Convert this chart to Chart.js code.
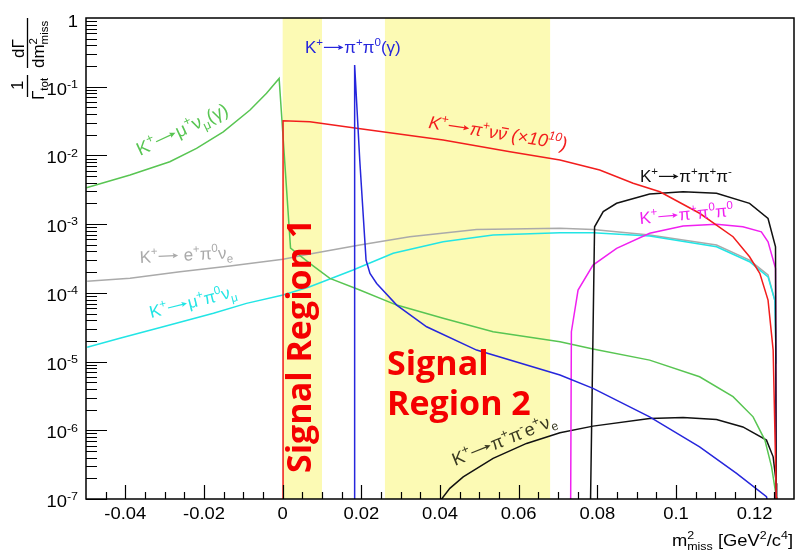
<!DOCTYPE html>
<html>
<head>
<meta charset="utf-8">
<script src="https://cdn.jsdelivr.net/npm/chart.js@4.4.1/dist/chart.umd.min.js"></script>
<style>
  html, body { margin: 0; padding: 0; background: #fff; }
  canvas { display: block; }
</style>
</head>
<body>
<canvas id="c" width="797" height="556"></canvas>
<script>
/* ===== K+ decay m2miss spectra (Chart.js, ROOT look) ===== */
const xMin = -0.05, xMax = 0.13, yMin = 1e-7, yMax = 1;

// K+ -> mu+ nu (gamma)
const kmu2X = [-0.0499, -0.0388, -0.0287, -0.0219, -0.0151, -0.0083, -0.0041, -0.0009, 0.0020, 0.0069, 0.0120, 0.0196, 0.0290, 0.0408, 0.0535, 0.0705, 0.0789, 0.0933, 0.1060, 0.1145, 0.1196, 0.1226, 0.1243, 0.1255, 0.1258];
const kmu2Y = [3.39e-3, 5.19e-3, 8.09e-3, 1.27e-2, 2.21e-2, 4.58e-2, 8.02e-2, 1.32e-1, 4.47e-4, 2.69e-4, 1.62e-4, 1.10e-4, 6.64e-5, 4.26e-5, 2.72e-5, 1.94e-5, 1.52e-5, 1.05e-5, 6.01e-6, 3.08e-6, 1.57e-6, 7.19e-7, 2.94e-7, 1.07e-7, 5e-8];
// K+ -> pi+ nu nubar (x1e10)
const pnnX = [0.0001, 0.0001, 0.0069, 0.0188, 0.0408, 0.0578, 0.0705, 0.0806, 0.0891, 0.0959, 0.1060, 0.1145, 0.1187, 0.1213, 0.1234, 0.1247, 0.1255, 0.1256];
const pnnY = [5e-8, 3.20e-2, 3.09e-2, 2.48e-2, 1.68e-2, 1.13e-2, 8.57e-3, 6.13e-3, 3.93e-3, 2.96e-3, 1.44e-3, 6.56e-4, 3.35e-4, 1.92e-4, 7.85e-5, 1.47e-5, 1.07e-7, 5e-8];
// K+ -> pi+ pi0 (gamma)
const ppi0X = [0.0183, 0.0183, 0.0196, 0.0212, 0.0222, 0.0239, 0.0290, 0.0366, 0.0493, 0.0705, 0.0789, 0.0933, 0.1060, 0.1154, 0.1230, 0.1235];
const ppi0Y = [5e-8, 0.207, 8.5e-3, 3.0e-4, 1.92e-4, 1.37e-4, 6.64e-5, 3.21e-5, 1.47e-5, 6.36e-6, 4.07e-6, 1.57e-6, 5.75e-7, 2.36e-7, 1.08e-7, 8e-8];
// K+ -> mu+ pi0 nu
const mpi0X = [-0.0497, -0.0414, -0.0304, -0.0176, -0.0092, 0.0001, 0.0069, 0.0179, 0.0281, 0.0408, 0.0535, 0.0705, 0.0789, 0.0933, 0.1103, 0.1187, 0.1234, 0.1251, 0.1255];
const mpi0Y = [1.62e-5, 2.18e-5, 3.21e-5, 5.04e-5, 7.03e-5, 9.29e-5, 1.23e-4, 2.15e-4, 3.76e-4, 5.55e-4, 6.93e-4, 7.50e-4, 7.50e-4, 6.71e-4, 4.69e-4, 2.84e-4, 1.71e-4, 7.85e-5, 9.4e-6];
// K+ -> e+ pi0 nu
const epi0X = [-0.0497, -0.0388, -0.0261, -0.0134, 0.0001, 0.0069, 0.0196, 0.0323, 0.0493, 0.0705, 0.0789, 0.0933, 0.1103, 0.1187, 0.1234, 0.1251, 0.1255];
const epi0Y = [1.47e-4, 1.63e-4, 2.03e-4, 2.45e-4, 3.08e-4, 3.67e-4, 4.97e-4, 6.56e-4, 8.39e-4, 8.69e-4, 8.39e-4, 6.93e-4, 4.97e-4, 3.00e-4, 1.82e-4, 7.85e-5, 9.4e-6];
// K+ -> pi+ pi+ pi-
const k3piX = [0.0782, 0.0793, 0.0815, 0.0849, 0.0933, 0.1018, 0.1103, 0.1187, 0.1234, 0.1253, 0.1255];
const k3piY = [5e-8, 9.16e-4, 1.52e-3, 2.01e-3, 2.74e-3, 2.96e-3, 2.81e-3, 2.01e-3, 1.21e-3, 4.69e-4, 5e-8];
// K+ -> pi+ pi0 pi0
const k3pi0X = [0.0732, 0.0734, 0.0751, 0.0789, 0.0849, 0.0933, 0.1018, 0.1103, 0.1170, 0.1217, 0.1234, 0.1253, 0.1255];
const k3pi0Y = [5e-8, 2.72e-5, 1.10e-4, 2.54e-4, 4.45e-4, 7.35e-4, 9.38e-4, 1.00e-3, 9.16e-4, 7.74e-4, 5.55e-4, 2.28e-4, 5e-8];
// K+ -> pi+ pi- e+ nu
const ke4X = [0.0398, 0.0425, 0.0459, 0.0535, 0.0620, 0.0705, 0.0789, 0.0933, 0.1018, 0.1103, 0.1170, 0.1230, 0.1247, 0.1255, 0.1256];
const ke4Y = [9e-8, 1.43e-7, 2.10e-7, 3.90e-7, 6.44e-7, 9.20e-7, 1.15e-6, 1.49e-6, 1.54e-6, 1.44e-6, 1.12e-6, 7.19e-7, 4.11e-7, 1.69e-7, 5e-8];

// signal regions
const bandStart = [0, 0.026];
const bandEnd = [0.01, 0.068];

// axis ticks
const xTickValues = [-0.04, -0.02, 0, 0.02, 0.04, 0.06, 0.08, 0.1, 0.12];
const xTickLabels = ['-0.04', '-0.02', '0', '0.02', '0.04', '0.06', '0.08', '0.1', '0.12'];
const yTickExp = [0, -1, -2, -3, -4, -5, -6, -7];

const col = {
    green: '#58c552', red: '#f21d1d', blue: '#2626dc', cyan: '#22e5e5',
    gray: '#aaaaaa', magenta: '#f020f0', black: '#111111', band: '#fcfab4'
};
const fam = '"Liberation Sans", Arial, sans-serif';
const fnt = (sz, st) => (st || '') + ' ' + sz + 'px ' + fam;

function pts(xs, ys) { return xs.map((x, i) => ({ x, y: ys[i] })); }

// rich text: parts = [text, kind, extra]; kind '^' sup, '_' sub, '^_' stacked, '~' overline, '>' arrow
function drawRich(ctx, parts, x, y, o) {
    const size = o.size, small = size * 0.68, st = o.style || '';
    ctx.save();
    ctx.translate(x, y);
    if (o.angle) ctx.rotate(o.angle * Math.PI / 180);
    ctx.scale(o.sx || 1, 1);
    const segs = [];
    let w = 0;
    for (const p of parts) {
        const t = p[0], k = p[1] || '';
        if (k === '>') {
            segs.push({ arrow: size * 1.15, x: w });
            w += size * 1.25;
        } else if (k === '^' || k === '_') {
            ctx.font = fnt(small, st);
            segs.push({ t, x: w, y: k === '^' ? -size * 0.42 : size * 0.25, f: ctx.font });
            w += ctx.measureText(t).width;
        } else if (k === '^_') {
            ctx.font = fnt(small, st);
            const w1 = ctx.measureText(t).width, w2 = ctx.measureText(p[2]).width;
            segs.push({ t, x: w, y: -size * 0.42, f: ctx.font });
            segs.push({ t: p[2], x: w, y: size * 0.25, f: ctx.font });
            w += Math.max(w1, w2);
        } else {
            ctx.font = fnt(size, st);
            const mw = ctx.measureText(t).width;
            segs.push({ t, x: w, y: 0, f: ctx.font, bar: k === '~' ? mw : 0 });
            w += mw;
        }
    }
    const x0 = o.align === 'right' ? -w : o.align === 'center' ? -w / 2 : 0;
    ctx.fillStyle = o.color; ctx.strokeStyle = o.color;
    ctx.textAlign = 'left'; ctx.textBaseline = 'alphabetic';
    for (const s of segs) {
        if (s.arrow) {
            const ax = x0 + s.x + size * 0.05, ay = -size * 0.33, L = s.arrow;
            ctx.lineWidth = size * 0.07;
            ctx.beginPath(); ctx.moveTo(ax, ay); ctx.lineTo(ax + L - size * 0.2, ay); ctx.stroke();
            ctx.beginPath();
            ctx.moveTo(ax + L, ay);
            ctx.lineTo(ax + L - size * 0.32, ay - size * 0.15);
            ctx.lineTo(ax + L - size * 0.26, ay);
            ctx.lineTo(ax + L - size * 0.32, ay + size * 0.15);
            ctx.closePath(); ctx.fill();
            continue;
        }
        ctx.font = s.f;
        ctx.fillText(s.t, x0 + s.x, s.y);
        if (s.bar) {
            const sh = st.includes('italic') ? size * 0.12 : 0;
            ctx.lineWidth = size * 0.07;
            ctx.beginPath();
            ctx.moveTo(x0 + s.x + 1 + sh, -size * 0.66);
            ctx.lineTo(x0 + s.x + s.bar - 1 + sh, -size * 0.66);
            ctx.stroke();
        }
    }
    ctx.restore();
}

const rootStyle = {
    id: 'rootStyle',
    beforeDatasetsDraw(chart) {
        const { ctx, chartArea: a, scales: { x } } = chart;
        ctx.save();
        ctx.fillStyle = col.band;
        bandStart.forEach((b, i) => {
            const p0 = x.getPixelForValue(b), p1 = x.getPixelForValue(bandEnd[i]);
            ctx.fillRect(p0, a.top, p1 - p0, a.bottom - a.top);
        });
        ctx.restore();
    },
    afterDatasetsDraw(chart) {
        const { ctx, chartArea: a, scales: { x, y } } = chart;
        ctx.save();
        // frame
        ctx.strokeStyle = '#000';
        ctx.lineWidth = 1.5;
        ctx.strokeRect(a.left, a.top, a.right - a.left, a.bottom - a.top);
        // x ticks every 0.005, major every 0.02
        ctx.lineWidth = 1.2;
        ctx.beginPath();
        for (let i = -9; i <= 25; i++) {
            const px = Math.round(x.getPixelForValue(i * 0.005)) + 0.5;
            const len = i % 4 === 0 ? 14 : 7;
            ctx.moveTo(px, a.bottom); ctx.lineTo(px, a.bottom - len);
        }
        // y ticks (log)
        for (let e = -7; e <= -1; e++) {
            for (let k = 1; k <= 9; k++) {
                const py = Math.round(y.getPixelForValue(k * Math.pow(10, e))) + 0.5;
                const len = k === 1 ? 21 : 11;
                ctx.moveTo(a.left, py); ctx.lineTo(a.left + len, py);
            }
        }
        ctx.stroke();
        ctx.restore();

        // tick labels
        xTickValues.forEach((v, i) => {
            drawRich(ctx, [[xTickLabels[i]]], x.getPixelForValue(v), a.bottom + 20, { size: 16, sx: 1.15, color: '#000', align: 'center' });
        });
        yTickExp.forEach(e => {
            const py = y.getPixelForValue(Math.pow(10, e));
            const parts = e === 0 ? [['1']] : [['10'], [String(e), '^']];
            drawRich(ctx, parts, a.left - 8, e === 0 ? py + 9 : py + 8, { size: 16, sx: 1.15, color: '#000', align: 'right' });
        });

        // axis titles
        drawRich(ctx, [['m'], ['2', '^_', 'miss'], [' [GeV'], ['2', '^'], ['/c'], ['4', '^'], [']']], 793, 546, { size: 17, sx: 1.08, color: '#000', align: 'right' });
        const yt = { size: 17, color: '#000', angle: -90 };
        drawRich(ctx, [['dΓ']], 24, 58, yt);
        drawRich(ctx, [['dm'], ['2', '^_', 'miss']], 44, 68, yt);
        drawRich(ctx, [['1']], 23, 90, yt);
        drawRich(ctx, [['Γ'], ['tot', '_']], 44, 100, yt);
        ctx.save();
        ctx.strokeStyle = '#000'; ctx.lineWidth = 1.3;
        ctx.beginPath();
        ctx.moveTo(27.5, 18); ctx.lineTo(27.5, 68);
        ctx.moveTo(27.5, 75); ctx.lineTo(27.5, 97);
        ctx.stroke();
        ctx.restore();

        // curve labels
        const L = { size: 17, sx: 1.0 };
        const AR = ['', '>'];
        drawRich(ctx, [['K'], ['+', '^'], AR, ['μ'], ['+', '^'], ['ν'], ['μ', '_'], ['(γ)']], 140, 156, { ...L, size: 18.5, color: col.green, angle: -25 });
        drawRich(ctx, [['K'], ['+', '^'], AR, ['π'], ['+', '^'], ['π'], ['0', '^'], ['(γ)']], 305, 53, { ...L, color: col.blue });
        drawRich(ctx, [['K'], ['+', '^'], AR, ['π'], ['+', '^'], ['ν'], ['ν', '~'], [' (×10'], ['10', '^'], [')']], 428, 128, { ...L, size: 18, color: col.red, angle: 9, style: 'italic' });
        drawRich(ctx, [['K'], ['+', '^'], AR, ['π'], ['+', '^'], ['π'], ['+', '^'], ['π'], ['-', '^']], 640, 182, { ...L, color: col.black });
        drawRich(ctx, [['K'], ['+', '^'], AR, ['π'], ['+', '^'], ['π'], ['0', '^'], ['π'], ['0', '^']], 640, 224, { ...L, color: col.magenta, angle: -5 });
        drawRich(ctx, [['K'], ['+', '^'], AR, [' e'], ['+', '^'], ['π'], ['0', '^'], ['ν'], ['e', '_']], 140, 263, { ...L, color: col.gray, angle: -3 });
        drawRich(ctx, [['K'], ['+', '^'], AR, ['μ'], ['+', '^'], ['π'], ['0', '^'], ['ν'], ['μ', '_']], 151, 318, { ...L, color: col.cyan, angle: -14 });
        drawRich(ctx, [['K'], ['+', '^'], AR, ['π'], ['+', '^'], ['π'], ['-', '^'], ['e'], ['+', '^'], ['ν'], ['e', '_']], 455, 466, { ...L, size: 18, color: '#3a3a22', angle: -22 });

        // signal region labels
        ctx.save();
        ctx.fillStyle = '#f40000';
        ctx.font = 'bold 34px "Open Sans", sans-serif';
        ctx.textBaseline = 'alphabetic';
        ctx.fillText('Signal', 387, 375);
        ctx.fillText('Region 2', 387, 415);
        ctx.translate(311, 473);
        ctx.rotate(-Math.PI / 2);
        ctx.fillText('Signal Region 1', 0, 0);
        ctx.restore();
    }
};

const line = (label, xs, ys, color) => ({
    label, data: pts(xs, ys), borderColor: color, backgroundColor: color,
    borderWidth: 1.5, pointRadius: 0, showLine: true, tension: 0, fill: false
});

new Chart(document.getElementById('c'), {
    type: 'scatter',
    data: {
        datasets: [
            line('K+ -> pi+ pi0 (gamma)', ppi0X, ppi0Y, col.blue),
            line('K+ -> pi+ nu nubar', pnnX, pnnY, col.red),
            line('K+ -> pi+ pi+ pi-', k3piX, k3piY, col.black),
            line('K+ -> pi+ pi0 pi0', k3pi0X, k3pi0Y, col.magenta),
            line('K+ -> mu+ nu (gamma)', kmu2X, kmu2Y, col.green),
            line('K+ -> mu+ pi0 nu', mpi0X, mpi0Y, col.cyan),
            line('K+ -> e+ pi0 nu', epi0X, epi0Y, col.gray),
            line('K+ -> pi+ pi- e+ nu', ke4X, ke4Y, col.black)
        ]
    },
    options: {
        responsive: false, animation: false, devicePixelRatio: 1,
        layout: { padding: { left: 86, top: 18, right: 3, bottom: 57 } },
        plugins: { legend: { display: false }, tooltip: { enabled: false } },
        scales: {
            x: { type: 'linear', min: xMin, max: xMax, display: false },
            y: { type: 'logarithmic', min: yMin, max: yMax, display: false }
        }
    },
    plugins: [rootStyle]
});
</script>
</body>
</html>
